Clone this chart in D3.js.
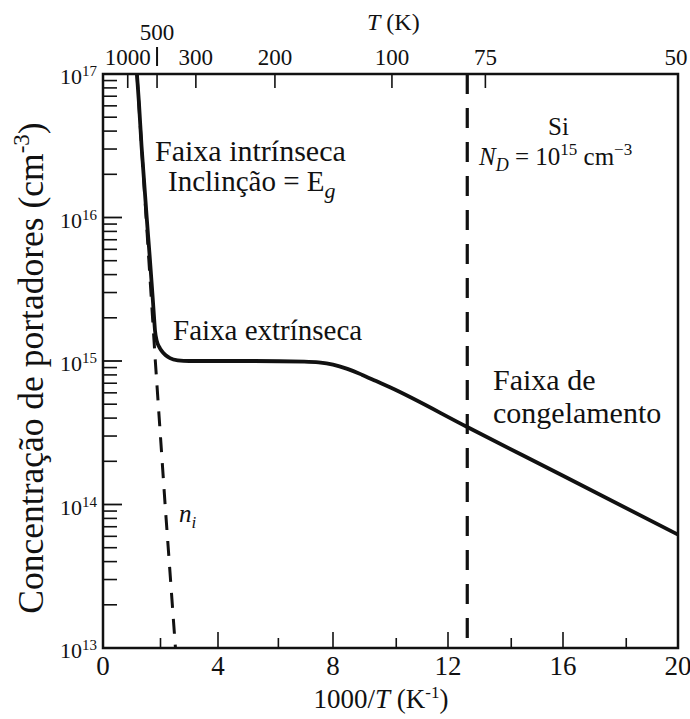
<!DOCTYPE html>
<html>
<head>
<meta charset="utf-8">
<script src="https://cdn.jsdelivr.net/npm/d3@7"></script>
<style>
  html, body { margin: 0; padding: 0; background: #fff; }
</style>
</head>
<body>
<svg id="chart" width="690" height="719"></svg>
<script>
// Electron concentration in n-type Si (N_D = 1e15 cm^-3) versus inverse temperature.
// Solid curve: total carrier concentration (log10 of cm^-3) against 1000/T.
const invT = [1.18, 1.25, 1.34, 1.43, 1.52, 1.62, 1.70, 1.76, 1.81, 1.87, 1.95, 2.04, 2.18, 2.33, 2.6,
              3.0, 5.0, 7.0, 7.5, 8.0, 8.5, 9.0, 9.5, 10.0, 12.67, 16.0, 20.0];
const logN = [17.0, 16.8, 16.5, 16.25, 16.0, 15.74, 15.52, 15.35, 15.21, 15.14, 15.1, 15.07, 15.04, 15.02, 15.005,
              15.0, 15.0, 14.995, 14.99, 14.975, 14.945, 14.905, 14.86, 14.815, 14.54, 14.2, 13.79];

// Dashed curve: intrinsic concentration n_i.
const niInvT = [1.18, 1.50, 1.82, 2.16, 2.52];
const niLogN = [17.0, 16.0, 15.0, 14.0, 13.0];

// Vertical marker separating the extrinsic and freeze-out ranges.
const freezeInvT = 12.67;

// Bottom axis (1000/T).
const xMajorTicks = [0, 4, 8, 12, 16, 20];
const xMinorTicks = [2, 6.1, 10.2, 14.2, 18.2];

// Top axis (T in K) and where each tick sits on the 1000/T scale.
const topTemps = [1000, 500, 300, 200, 100, 75, 50];
const topTickPos = [0.86, 1.88, 3.23, 5.98, 10.05, 13.3, 20];

// Decades on the concentration axis.
const yDecades = [13, 14, 15, 16, 17];

const svg = d3.select("#chart");
const ink = "#111";
const serif = "Liberation Serif, Tinos, Times New Roman, Times, Nimbus Roman, FreeSerif, Noto Serif, DejaVu Serif, serif";

const x = d3.scaleLinear().domain([0, 20]).range([103, 678]);
const y = d3.scaleLog().domain([1e13, 1e17]).range([648, 74]);

const [x0, x1] = x.range();
const [yb, yt] = y.range();

svg.append("defs").append("clipPath").attr("id", "plot-clip")
  .append("rect").attr("x", x0).attr("y", yt).attr("width", x1 - x0).attr("height", yb - yt);

// ---- curves ----
const line = d3.line()
  .x(d => x(d[0]))
  .y(d => y(Math.pow(10, d[1])))
  .curve(d3.curveMonotoneX);

const plot = svg.append("g").attr("clip-path", "url(#plot-clip)");

plot.append("path")
  .datum(niInvT.map((v, i) => [v, niLogN[i]]))
  .attr("d", d3.line().x(d => x(d[0])).y(d => y(Math.pow(10, d[1]))))
  .attr("fill", "none").attr("stroke", ink).attr("stroke-width", 3)
  .attr("stroke-dasharray", "15,11");

plot.append("path")
  .datum(invT.map((v, i) => [v, logN[i]]))
  .attr("d", line)
  .attr("fill", "none").attr("stroke", ink).attr("stroke-width", 3.8)
  .attr("stroke-linejoin", "round");

plot.append("line")
  .attr("x1", x(freezeInvT)).attr("x2", x(freezeInvT))
  .attr("y1", yt).attr("y2", yb)
  .attr("stroke", ink).attr("stroke-width", 3.2)
  .attr("stroke-dasharray", "20,14");

// ---- frame ----
svg.append("rect")
  .attr("x", x0).attr("y", yt).attr("width", x1 - x0).attr("height", yb - yt)
  .attr("fill", "none").attr("stroke", ink).attr("stroke-width", 2.5);

// all text shares the same face and ink colour
const txt = (sel) => sel.style("font-family", serif).attr("fill", ink);

// ---- bottom axis ----
const bottomAxis = svg.append("g");
bottomAxis.selectAll("line.major").data(xMajorTicks.filter(v => v > 0 && v < 20)).join("line")
  .attr("class", "major")
  .attr("x1", d => x(d)).attr("x2", d => x(d)).attr("y1", yb).attr("y2", yb - 16)
  .attr("stroke", ink).attr("stroke-width", 1.6);
bottomAxis.selectAll("line.minor").data(xMinorTicks).join("line")
  .attr("class", "minor")
  .attr("x1", d => x(d)).attr("x2", d => x(d)).attr("y1", yb).attr("y2", yb - 10)
  .attr("stroke", ink).attr("stroke-width", 1.6);
txt(bottomAxis.selectAll("text").data(xMajorTicks).join("text"))
  .attr("x", d => x(d)).attr("y", yb + 27)
  .attr("text-anchor", "middle").attr("font-size", 27)
  .text(d => d);

const xl = txt(svg.append("text")).attr("x", 381).attr("y", 708)
  .attr("text-anchor", "middle").attr("font-size", 27);
xl.append("tspan").text("1000/");
xl.append("tspan").attr("font-style", "italic").text("T");
xl.append("tspan").text("  (K");
xl.append("tspan").attr("font-size", 17).attr("dy", -10).text("-1");
xl.append("tspan").attr("dy", 10).text(")");

// ---- top axis ----
const topAxis = svg.append("g");
topAxis.selectAll("line").data(topTickPos.filter(v => v < 20)).join("line")
  .attr("x1", d => x(d)).attr("x2", d => x(d)).attr("y1", yt).attr("y2", yt + 14)
  .attr("stroke", ink).attr("stroke-width", 1.6);
txt(topAxis.selectAll("text").data(topTemps).join("text"))
  .attr("x", (d, i) => Math.min(x(topTickPos[i]), 676))
  .attr("y", d => d === 500 ? 40 : 65)
  .attr("text-anchor", "middle").attr("font-size", 23)
  .text(d => d);
// leader bar under the raised 500 label
const i500 = topTemps.indexOf(500);
topAxis.append("line")
  .attr("x1", x(topTickPos[i500])).attr("x2", x(topTickPos[i500]))
  .attr("y1", 47).attr("y2", 66)
  .attr("stroke", ink).attr("stroke-width", 2);

const tl = txt(svg.append("text")).attr("x", 367).attr("y", 30).attr("font-size", 24);
tl.append("tspan").attr("font-style", "italic").text("T");
tl.append("tspan").text(" (K)");

// ---- left axis ----
const leftAxis = svg.append("g");
const minorY = y.ticks().filter(v => {
  const m = Math.round(v / Math.pow(10, Math.floor(Math.log10(v) + 1e-9)));
  return m !== 1;
});
leftAxis.selectAll("line.minor").data(minorY).join("line")
  .attr("class", "minor")
  .attr("x1", x0).attr("x2", x0 + 14).attr("y1", d => y(d)).attr("y2", d => y(d))
  .attr("stroke", ink).attr("stroke-width", 1.6);
leftAxis.selectAll("line.major").data(yDecades.filter(e => e > 13 && e < 17)).join("line")
  .attr("class", "major")
  .attr("x1", x0).attr("x2", x0 + 19).attr("y1", d => y(Math.pow(10, d))).attr("y2", d => y(Math.pow(10, d)))
  .attr("stroke", ink).attr("stroke-width", 1.8);
const ylabels = txt(leftAxis.selectAll("text").data(yDecades).join("text"))
  .attr("x", 97).attr("y", d => y(Math.pow(10, d)) + 10)
  .attr("text-anchor", "end").attr("font-size", 22);
ylabels.append("tspan").text("10");
ylabels.append("tspan").attr("font-size", 15).attr("dy", -8).text(d => d);

const yl = txt(svg.append("text"))
  .attr("transform", "translate(43,368) rotate(-90)")
  .attr("text-anchor", "middle").attr("font-size", 35.5);
yl.append("tspan").text("Concentração de portadores (cm");
yl.append("tspan").attr("font-size", 23).attr("dy", -14).text("-3");
yl.append("tspan").attr("dy", 14).text(")");

// ---- annotations ----
const note = svg.append("g");
txt(note.append("text")).attr("x", 155).attr("y", 161).attr("font-size", 30).text("Faixa intrínseca");
const slope = txt(note.append("text")).attr("x", 168).attr("y", 191).attr("font-size", 29);
slope.append("tspan").text("Inclinção = E");
slope.append("tspan").attr("font-style", "italic").attr("font-size", 22).attr("dy", 7).text("g");

txt(note.append("text")).attr("x", 173).attr("y", 340).attr("font-size", 29).text("Faixa extrínseca");
txt(note.append("text")).attr("x", 493).attr("y", 390).attr("font-size", 30).text("Faixa de");
txt(note.append("text")).attr("x", 493).attr("y", 423).attr("font-size", 30).text("congelamento");

txt(svg.append("text")).attr("x", 548).attr("y", 135).attr("font-size", 25).text("Si");
const nd = txt(svg.append("text")).attr("x", 479).attr("y", 165).attr("font-size", 25);
nd.append("tspan").attr("font-style", "italic").text("N");
nd.append("tspan").attr("font-style", "italic").attr("font-size", 18).attr("dy", 6).text("D");
nd.append("tspan").attr("dy", -6).text(" = 10");
nd.append("tspan").attr("font-size", 17).attr("dy", -10).text("15");
nd.append("tspan").attr("dy", 10).text(" cm");
nd.append("tspan").attr("font-size", 17).attr("dy", -10).text("−3");

const ni = txt(svg.append("text")).attr("x", 179).attr("y", 522).attr("font-size", 25).attr("font-style", "italic");
ni.append("tspan").text("n");
ni.append("tspan").attr("font-size", 17).attr("dy", 6).text("i");
</script>
</body>
</html>
